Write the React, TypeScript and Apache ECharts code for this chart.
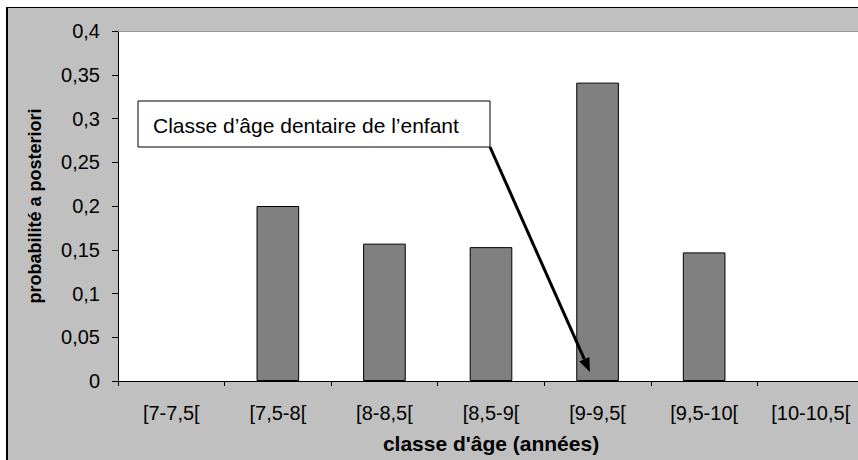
import React, { useEffect, useRef } from "react";
import * as echarts from "echarts";

const categories = ["[7-7,5[", "[7,5-8[", "[8-8,5[", "[8,5-9[", "[9-9,5[", "[9,5-10[", "[10-10,5["];
const probabilities = [0, 0.2, 0.157, 0.153, 0.341, 0.147, 0];
const yTicks = { min: 0, max: 0.4, interval: 0.05 };
const xTitle = "classe d'âge (années)";
const yTitle = "probabilité a posteriori";
const annotationText = "Classe d’âge dentaire de l’enfant";

const FONT = "'Liberation Sans', Arial, sans-serif";

export default function App() {
  const ref = useRef<HTMLDivElement>(null);

  useEffect(() => {
    document.body.style.margin = "0";
    if (!ref.current) return;
    const chart = echarts.init(ref.current, undefined, { renderer: "svg" });

    // arrow geometry (annotation)
    const sx = 490, sy = 147, tx = 590, ty = 372;
    const dx = tx - sx, dy = ty - sy;
    const len = Math.sqrt(dx * dx + dy * dy);
    const ux = dx / len, uy = dy / len;
    const headL = 14, headW = 5.5;
    const bx = tx - headL * ux, by = ty - headL * uy;
    const nx = -uy * headW, ny = ux * headW;

    chart.setOption({
      animation: false,
      backgroundColor: "transparent",
      textStyle: { fontFamily: FONT },
      grid: {
        left: 118,
        top: 31,
        right: 0,
        bottom: 79,
        show: true,
        backgroundColor: "#ffffff",
        borderWidth: 0,
      },
      xAxis: {
        type: "category",
        data: categories,
        boundaryGap: true,
        axisLine: { show: true, lineStyle: { color: "#000", width: 1 } },
        axisTick: { show: true, length: 5, interval: 0, lineStyle: { color: "#000" } },
        axisLabel: { interval: 0, margin: 22, color: "#000", fontSize: 20, fontFamily: FONT },
        splitLine: { show: false },
        name: xTitle,
        nameLocation: "middle",
        nameGap: 52,
        nameTextStyle: { color: "#000", fontSize: 21, fontWeight: "bold", fontFamily: FONT },
      },
      yAxis: {
        type: "value",
        min: yTicks.min,
        max: yTicks.max,
        interval: yTicks.interval,
        axisLine: { show: true, lineStyle: { color: "#000", width: 1 } },
        axisTick: { show: true, length: 6, lineStyle: { color: "#000" } },
        axisLabel: {
          margin: 18,
          color: "#000",
          fontSize: 20,
          fontFamily: FONT,
          formatter: (v: number) => String(Number(v.toFixed(2))).replace(".", ","),
        },
        splitLine: { show: false },
        name: yTitle,
        nameLocation: "middle",
        nameRotate: 90,
        nameGap: 74,
        nameTextStyle: { color: "#000", fontSize: 18, fontWeight: "bold", fontFamily: FONT },
      },
      series: [
        {
          type: "bar",
          data: probabilities.map((v) => ({
            value: v,
            itemStyle: { borderWidth: v === 0 ? 0 : 1 },
          })),
          barWidth: "40%",
          itemStyle: { color: "#808080", borderColor: "#000", borderWidth: 1 },
        },
      ],
      graphic: [
        {
          type: "line",
          z: 5,
          shape: { x1: 118, y1: 31.5, x2: 864, y2: 31.5 },
          style: { stroke: "#9a9a9a", lineWidth: 1 },
        },
        {
          type: "rect",
          z: 100,
          shape: { x: 138, y: 101, width: 352, height: 46 },
          style: { fill: "#fff", stroke: "#000", lineWidth: 1 },
        },
        {
          type: "text",
          z: 101,
          x: 153,
          y: 125,
          style: {
            text: annotationText,
            fill: "#000",
            font: `21px ${FONT}`,
            verticalAlign: "middle",
            align: "left",
          },
        },
        {
          type: "line",
          z: 100,
          shape: { x1: sx, y1: sy, x2: bx, y2: by },
          style: { stroke: "#000", lineWidth: 3 },
        },
        {
          type: "polygon",
          z: 100,
          shape: {
            points: [
              [tx, ty],
              [bx + nx, by + ny],
              [bx - nx, by - ny],
            ],
          },
          style: { fill: "#000" },
        },
      ],
    });

    return () => {
      chart.dispose();
    };
  }, []);

  return (
    <div
      style={{
        position: "fixed",
        left: 0,
        top: 0,
        width: 858,
        height: 460,
        overflow: "hidden",
        background: "#fff",
      }}
    >
      <div
        style={{
          position: "absolute",
          left: 6,
          top: 7,
          width: 900,
          height: 500,
          background: "#C0C0C0",
          borderTop: "1px solid #000",
          borderLeft: "2px solid #000",
        }}
      />
      <div ref={ref} style={{ position: "absolute", left: 0, top: 0, width: 864, height: 460 }} />
    </div>
  );
}
